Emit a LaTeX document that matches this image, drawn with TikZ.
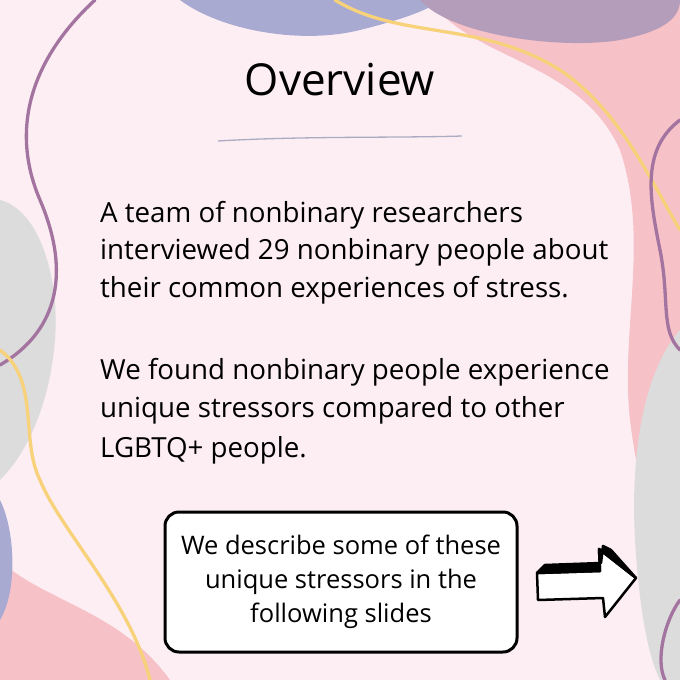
\documentclass[tikz,border=0pt]{standalone}
\usepackage{fontspec}
\setmainfont{Open Sans}
\begin{document}
\begin{tikzpicture}[x=1pt,y=-1pt,
 body/.style={anchor=west,font=\fontsize{27.7}{33}\selectfont,inner sep=0},
 wavy/.style={line width=3.3pt,line cap=round}]
\definecolor{bg}{HTML}{FDEEF3}
\definecolor{bluep}{HTML}{A8AAD2}
\definecolor{mauve}{HTML}{B49DBB}
\definecolor{pinkb}{HTML}{F6C2C8}
\definecolor{greyb}{HTML}{DCDCDC}
\definecolor{purl}{HTML}{A3749F}
\definecolor{yel}{HTML}{F7D27A}
\useasboundingbox (0,0) rectangle (680,680);
\clip (0,0) rectangle (680,680);
\fill[bg] (0,0) rectangle (680,680);
% blobs
\fill[pinkb] (430,0) .. controls (470,60) and (580,60) .. (620,150) .. controls (650,240) and (620,330) .. (630,420) .. controls (640,500) and (660,560) .. (680,570) -- (680,0) -- cycle;
\fill[bluep] (180,0) .. controls (220,30) and (300,45) .. (360,30) .. controls (400,20) and (430,10) .. (440,0) -- cycle;
\fill[mauve] (420,0) .. controls (450,35) and (560,50) .. (620,40) .. controls (660,32) and (680,20) .. (680,0) -- cycle;
\fill[greyb] (0,200) .. controls (40,210) and (60,280) .. (55,340) .. controls (50,400) and (30,450) .. (0,480) -- cycle;
\fill[greyb] (680,330) .. controls (645,370) and (630,450) .. (635,540) .. controls (640,620) and (650,660) .. (660,680) -- (680,680) -- cycle;
\fill[pinkb] (0,560) .. controls (40,600) and (120,610) .. (170,680) -- (0,680) -- cycle;
\fill[bluep] (0,500) .. controls (15,530) and (18,590) .. (0,620) -- cycle;
% lines
\draw[wavy,purl] (95,0) .. controls (30,60) and (10,130) .. (40,200) .. controls (70,270) and (60,330) .. (0,365);
\draw[wavy,yel] (0,350) .. controls (40,380) and (20,440) .. (40,480) .. controls (60,530) and (130,600) .. (150,680);
\draw[wavy,yel] (335,0) .. controls (400,40) and (480,20) .. (560,70) .. controls (620,110) and (650,180) .. (680,230);
\draw[wavy,purl] (680,120) .. controls (640,150) and (650,200) .. (660,250) .. controls (670,300) and (660,330) .. (680,350);
\draw[wavy,purl] (680,600) .. controls (665,620) and (655,660) .. (665,680);
% title
\node[font=\fontsize{44}{50}\selectfont,inner sep=0] (title) at (340,80) {Overview};
\draw[line width=1.3pt,color=bluep!80!black!70] (218,141) .. controls (300,136) and (400,138) .. (462,136);
\node[body] (l1) at (100,215) {A team of nonbinary researchers};
\node[body] (l2) at (100,252) {interviewed 29 nonbinary people about};
\node[body] (l3) at (100,290) {their common experiences of stress.};
\node[body] (l4) at (100,372) {We found nonbinary people experience};
\node[body] (l5) at (100,410) {unique stressors compared to other};
\node[body] (l6) at (100,450) {LGBTQ+ people.};
\node[draw,line width=3pt,rounded corners=14pt,fill=white,minimum width=352pt,minimum height=140pt,align=center,font=\fontsize{25.5}{34}\selectfont] (box) at (341,582) {We describe some of these\\unique stressors in the\\following slides};
% arrow
\draw[line width=2.5pt,line join=round,fill=white] (537,573) -- (600,571) -- (599,549) -- (636,578) -- (605,617) -- (603,598) -- (538,600) -- cycle;
\draw[line width=2.5pt,line join=round,fill=black] (537,573) -- (545,565) -- (601,563) -- (603,546) -- (611,550) -- (636,578) -- (599,549) -- (600,571) -- cycle;
\end{tikzpicture}
\end{document}
